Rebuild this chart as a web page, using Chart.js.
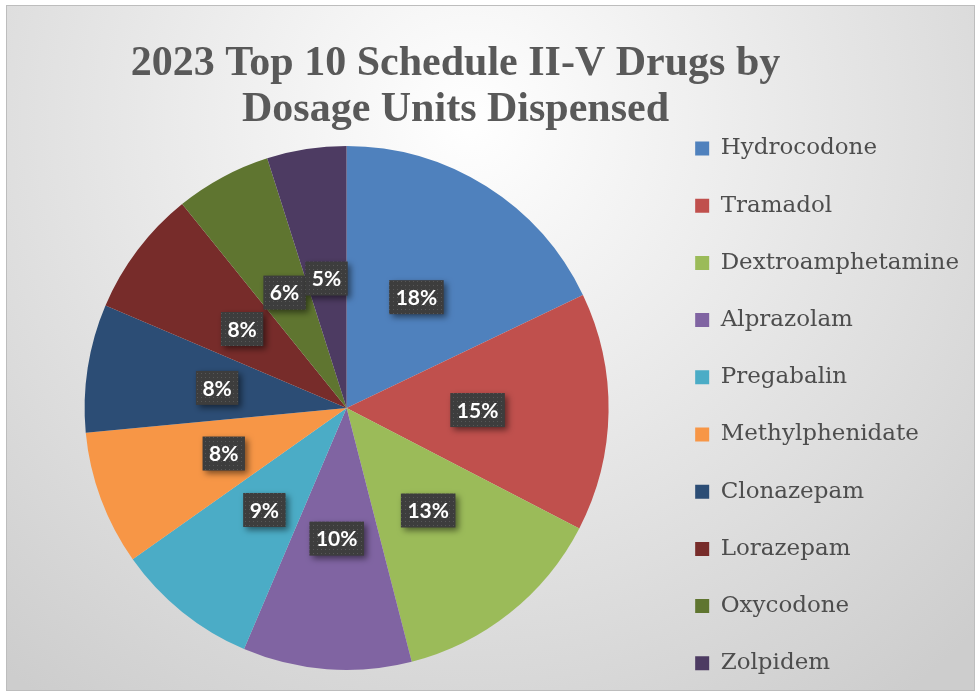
<!DOCTYPE html>
<html>
<head>
<meta charset="utf-8">
<script src="https://cdn.jsdelivr.net/npm/chart.js@4.4.1/dist/chart.umd.min.js"></script>
<style>
  html, body { margin: 0; padding: 0; background: #fff; }
  #wrap { width: 977px; height: 694px; }
</style>
</head>
<body>
<div id="wrap"><canvas id="drugs" width="977" height="694"></canvas></div>
<script>
const drugs = ['Hydrocodone', 'Tramadol', 'Dextroamphetamine', 'Alprazolam', 'Pregabalin',
    'Methylphenidate', 'Clonazepam', 'Lorazepam', 'Oxycodone', 'Zolpidem'];
const shares = [17.9, 14.7, 13.4, 10.4, 8.8, 8.3, 7.9, 7.8, 5.9, 4.9];
const sliceColors = ['#4f81bd', '#c0504d', '#9bbb59', '#8064a2', '#4bacc6',
    '#f79646', '#2c4d75', '#772c2a', '#5f7530', '#4d3b62'];
const titleLines = ['2023 Top 10 Schedule II-V Drugs by', 'Dosage Units Dispensed'];

function percentText(value) {
    const total = shares.reduce((a, b) => a + b, 0);
    return Math.round(value / total * 100) + '%';
}

// grey radial fill and thin frame of the chart area
const chartBackground = {
    id: 'chartBackground',
    beforeDraw(chart) {
        const ctx = chart.ctx;
        ctx.save();
        ctx.fillStyle = '#ffffff';
        ctx.fillRect(0, 0, chart.width, chart.height);
        const g = ctx.createRadialGradient(470, 120, 0, 470, 120, 720);
        g.addColorStop(0, '#ffffff');
        g.addColorStop(1, '#cdcdcd');
        ctx.fillStyle = g;
        ctx.fillRect(6, 5, 969, 686);
        ctx.strokeStyle = '#bdbdbd';
        ctx.lineWidth = 1;
        ctx.strokeRect(6.5, 5.5, 968, 685);
        ctx.restore();
    }
};

function dotPattern(ctx) {
    const c = document.createElement('canvas');
    c.width = 4;
    c.height = 4;
    const p = c.getContext('2d');
    p.fillStyle = '#3d3d3d';
    p.fillRect(0, 0, 4, 4);
    p.fillStyle = '#575757';
    p.fillRect(1, 1, 1, 1);
    return ctx.createPattern(c, 'repeat');
}

// percentage tags in dark boxes, placed at each slice's centre point
const sliceLabels = {
    id: 'sliceLabels',
    afterDatasetsDraw(chart) {
        const ctx = chart.ctx;
        const meta = chart.getDatasetMeta(0);
        const fill = dotPattern(ctx);
        ctx.save();
        ctx.font = 'bold 21px Lato';
        ctx.textAlign = 'center';
        ctx.textBaseline = 'middle';
        meta.data.forEach((arc, i) => {
            const pos = arc.tooltipPosition();
            const text = percentText(shares[i]);
            const w = ctx.measureText(text).width + 13;
            const h = 34;
            ctx.save();
            ctx.shadowColor = 'rgba(0,0,0,0.5)';
            ctx.shadowBlur = 6;
            ctx.shadowOffsetX = 3;
            ctx.shadowOffsetY = 3;
            ctx.fillStyle = fill;
            ctx.fillRect(pos.x - w / 2, pos.y - h / 2, w, h);
            ctx.restore();
            ctx.fillStyle = '#ffffff';
            ctx.fillText(text, pos.x, pos.y + 1);
        });
        ctx.restore();
    }
};

const baseLabels = Chart.overrides.doughnut.plugins.legend.labels.generateLabels;

new Chart(document.getElementById('drugs'), {
    type: 'pie',
    data: {
        labels: drugs,
        datasets: [{
            data: shares,
            backgroundColor: sliceColors,
            borderWidth: 0,
            radius: 262
        }]
    },
    options: {
        responsive: false,
        animation: false,
        layout: { padding: { left: -58, right: 8, top: 5, bottom: -20 } },
        plugins: {
            title: {
                display: true,
                text: titleLines,
                color: '#595959',
                font: { family: 'Liberation Serif', size: 42, weight: 'bold', lineHeight: 46 / 42 },
                padding: { top: 36, bottom: -11 }
            },
            // empty left box, only used as a spacer so the pie sits where Excel put it
            subtitle: {
                display: true,
                position: 'left',
                fullSize: false,
                text: '',
                font: { size: 10, lineHeight: 1 },
                padding: { top: 56, bottom: 0 }
            },
            legend: {
                position: 'right',
                align: 'start',
                maxWidth: 320,
                title: { display: true, text: '', font: { size: 10, lineHeight: 1 }, padding: { top: 112, bottom: 0 } },
                labels: {
                    color: '#4d4d4d',
                    font: { family: 'DejaVu Serif', size: 23, lineHeight: 47.2 / 23 },
                    boxWidth: 14,
                    boxHeight: 14,
                    padding: 10,
                    generateLabels(chart) {
                        return baseLabels(chart).map(item => Object.assign(item, { text: [item.text] }));
                    }
                }
            },
            tooltip: { enabled: false }
        }
    },
    plugins: [chartBackground, sliceLabels]
});
</script>
</body>
</html>
